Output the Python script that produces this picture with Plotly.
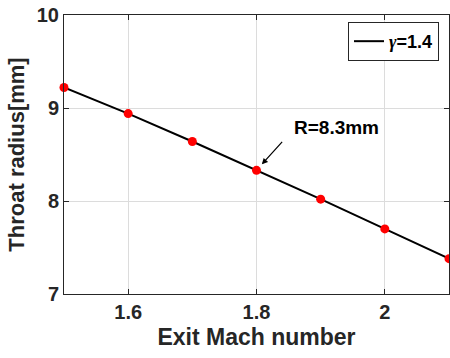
import plotly.graph_objects as go

mach = [1.5, 1.6, 1.7, 1.8, 1.9, 2.0, 2.1]
radius = [9.22, 8.94, 8.64, 8.33, 8.02, 7.70, 7.38]
x_ticks = [1.6, 1.8, 2.0]
x_tick_labels = ["1.6", "1.8", "2"]
y_ticks = [7, 8, 9, 10]

font = "Liberation Sans, Arial, sans-serif"
dark = "#262626"

fig = go.Figure()
fig.add_trace(go.Scatter(x=mach, y=radius, mode="lines", line=dict(color="black", width=2),
                         name="<b><i style='font-family:Liberation Serif'>γ</i>=1.4</b>",
                         showlegend=True, cliponaxis=False))
fig.add_trace(go.Scatter(x=mach, y=radius, mode="markers", marker=dict(color="red", size=9),
                         showlegend=False, cliponaxis=False))

fig.add_annotation(x=1.8, y=8.33, ax=27, ay=-30, axref="pixel", ayref="pixel",
                   text="", showarrow=True, arrowhead=2, arrowsize=1, arrowwidth=1.2,
                   arrowcolor="black", standoff=8)
fig.add_annotation(x=1.8, y=8.33, xshift=80, yshift=43, text="<b>R=8.3mm</b>", showarrow=False,
                   font=dict(size=19, color="black", family=font))

axis_common = dict(showline=True, linecolor=dark, linewidth=1, mirror="ticks",
                   ticks="inside", ticklen=5, tickcolor=dark, showgrid=True,
                   gridcolor="#dcdcdc", gridwidth=1, zeroline=False, automargin=False,
                   tickfont=dict(size=20, color=dark, family=font))

fig.update_layout(
    width=450, height=358,
    margin=dict(l=64, r=1, t=15, b=64),
    plot_bgcolor="white", paper_bgcolor="white",
    xaxis=dict(range=[1.5, 2.1], tickvals=x_ticks, ticktext=["<b>%s</b>" % t for t in x_tick_labels],
               title=dict(text="<b>Exit Mach number</b>", font=dict(size=23, color=dark, family=font), standoff=6),
               **axis_common),
    yaxis=dict(range=[7, 10], tickvals=y_ticks, ticktext=["<b>%d</b>" % t for t in y_ticks],
               title=dict(text="<b>Throat radius[mm]</b>", font=dict(size=22, color=dark, family=font), standoff=6),
               **axis_common),
    legend=dict(x=0.974, y=0.975, xanchor="right", yanchor="top", bgcolor="white",
                bordercolor=dark, borderwidth=1,
                font=dict(size=18, color="black", family=font), itemwidth=30),
    showlegend=True,
)

fig.write_html("out.html", config={"displayModeBar": False},
               post_script="document.body.style.margin='0';")
